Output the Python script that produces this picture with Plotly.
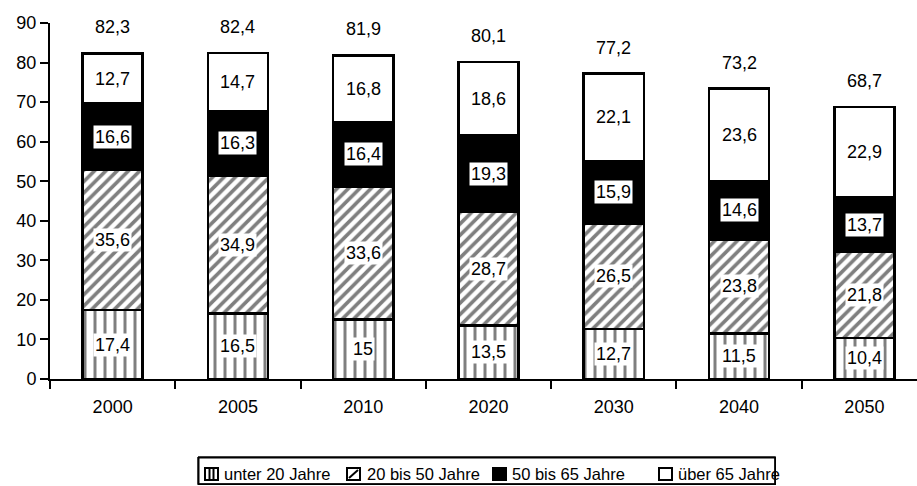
import plotly.graph_objects as go

# Bevölkerung nach Altersgruppen (Mio.)
jahre = ["2000", "2005", "2010", "2020", "2030", "2040", "2050"]
unter_20 = [17.4, 16.5, 15, 13.5, 12.7, 11.5, 10.4]
von_20_bis_50 = [35.6, 34.9, 33.6, 28.7, 26.5, 23.8, 21.8]
von_50_bis_65 = [16.6, 16.3, 16.4, 19.3, 15.9, 14.6, 13.7]
ueber_65 = [12.7, 14.7, 16.8, 18.6, 22.1, 23.6, 22.9]
gesamt = [82.3, 82.4, 81.9, 80.1, 77.2, 73.2, 68.7]
gruppen = ["unter 20 Jahre", "20 bis 50 Jahre", "50 bis 65 Jahre", "über 65 Jahre"]

FONT = "Liberation Sans, Arial, sans-serif"
SIZE = 18

W, H = 917, 486
# plot area in pixels
PX0, PX1, PY0, PY1 = 50, 917, 23, 379

markers = [
    dict(color="white", pattern=dict(shape="|", fgcolor="black", bgcolor="white", size=10, solidity=0.3)),
    dict(color="white", pattern=dict(shape="/", fgcolor="black", bgcolor="white", size=8, solidity=0.45)),
    dict(color="black"),
    dict(color="white"),
]
werte = [unter_20, von_20_bis_50, von_50_bis_65, ueber_65]

fig = go.Figure()
for name, vals, marker in zip(gruppen, werte, markers):
    marker = dict(marker, line=dict(color="black", width=2.5))
    fig.add_trace(go.Bar(x=jahre, y=vals, name=name, marker=marker, width=0.48,
                         showlegend=False, xaxis="x", yaxis="y"))


def fmt(v):
    return f"{v:g}".replace(".", ",")


annotations = []

# segment labels, centred in each segment (x given as category index)
for i in range(len(jahre)):
    base = 0
    for k, vals in enumerate(werte):
        v = vals[i]
        ann = dict(
            x=i, y=base + v / 2, xref="x", yref="y", text=fmt(v), showarrow=False,
            font=dict(family=FONT, size=SIZE, color="black"), borderpad=1,
        )
        if k < 3:
            ann["bgcolor"] = "white"
        annotations.append(ann)
        base += v
    annotations.append(dict(
        x=i, y=gesamt[i], xref="x", yref="y", text=fmt(gesamt[i]),
        showarrow=False, yshift=26,
        font=dict(family=FONT, size=SIZE, color="black"),
    ))

# legend drawn by hand on a full-page pixel overlay (x2/y2)
bx0, bx1, by0, by1 = 198, 775, 457, 484

# frame: a bordered box holding non-breaking spaces, plus a line trace on the same edges
annotations.append(dict(
    x=(bx0 + bx1) / 2, y=(by0 + by1) / 2, xref="x2", yref="y2",
    xanchor="center", yanchor="middle", text="&nbsp;" * 4, showarrow=False,
    width=bx1 - bx0 - 2, height=by1 - by0 - 2, borderpad=0,
    bordercolor="black", borderwidth=1.5, bgcolor="rgba(0,0,0,0)",
    font=dict(family=FONT, size=10, color="black"),
))
fig.add_trace(go.Scatter(
    x=[bx0, bx1, bx1, bx0, bx0], y=[by0, by0, by1, by1, by0],
    mode="lines", line=dict(color="black", width=1.5),
    hoverinfo="skip", showlegend=False, xaxis="x2", yaxis="y2", cliponaxis=False,
))

shapes = []
swatch_x = [205, 347, 493, 659]
text_x = [222, 365, 510, 676]
sy0, sy1 = 468, 480


def seg(x0, y0, x1, y1, width=2):
    return dict(type="line", xref="x2", yref="y2", x0=x0, x1=x1, y0=y0, y1=y1,
                line=dict(color="black", width=width), layer="above")


for k, (sx, tx) in enumerate(zip(swatch_x, text_x)):
    fill = "black" if k == 2 else "white"
    shapes.append(dict(type="rect", xref="x2", yref="y2",
                       x0=sx, x1=sx + 13, y0=sy0, y1=sy1,
                       line=dict(color="black", width=2), fillcolor=fill, layer="above"))
    if k == 0:
        for lx in (sx + 4.5, sx + 8.5):
            shapes.append(seg(lx, sy0, lx, sy1))
    if k == 1:
        shapes.append(seg(sx + 2, sy1 - 2, sx + 11, sy0 + 2))
    annotations.append(dict(
        x=tx, y=474, xref="x2", yref="y2", xanchor="left", yanchor="middle",
        text=gruppen[k], showarrow=False,
        font=dict(family=FONT, size=16.5, color="black"),
    ))

fig.update_layout(
    width=W, height=H,
    margin=dict(l=0, r=0, t=0, b=0),
    barmode="stack",
    plot_bgcolor="rgba(0,0,0,0)", paper_bgcolor="white",
    font=dict(family=FONT, size=SIZE, color="black"),
    annotations=annotations,
    shapes=shapes,
    showlegend=False,
    xaxis=dict(
        domain=[PX0 / W, PX1 / W], anchor="y",
        type="category", range=[-0.5, 6.42],
        showline=True, linecolor="black", linewidth=2,
        ticks="outside", tickson="boundaries", ticklen=8, tickwidth=2, tickcolor="black",
        ticklabelstandoff=10, automargin=False,
        showgrid=False, zeroline=False,
        tickfont=dict(family=FONT, size=SIZE),
    ),
    yaxis=dict(
        domain=[(H - PY1) / H, (H - PY0) / H], anchor="x",
        range=[0, 90], dtick=10,
        showline=True, linecolor="black", linewidth=2,
        ticks="outside", ticklen=8, tickwidth=2, tickcolor="black",
        automargin=False,
        showgrid=False, zeroline=False,
        tickfont=dict(family=FONT, size=SIZE),
    ),
    xaxis2=dict(domain=[0, 1], anchor="y2", range=[0, W], visible=False, fixedrange=True),
    yaxis2=dict(domain=[0, 1], anchor="x2", range=[H, 0], visible=False, fixedrange=True),
)

fig.write_html("out.html")
